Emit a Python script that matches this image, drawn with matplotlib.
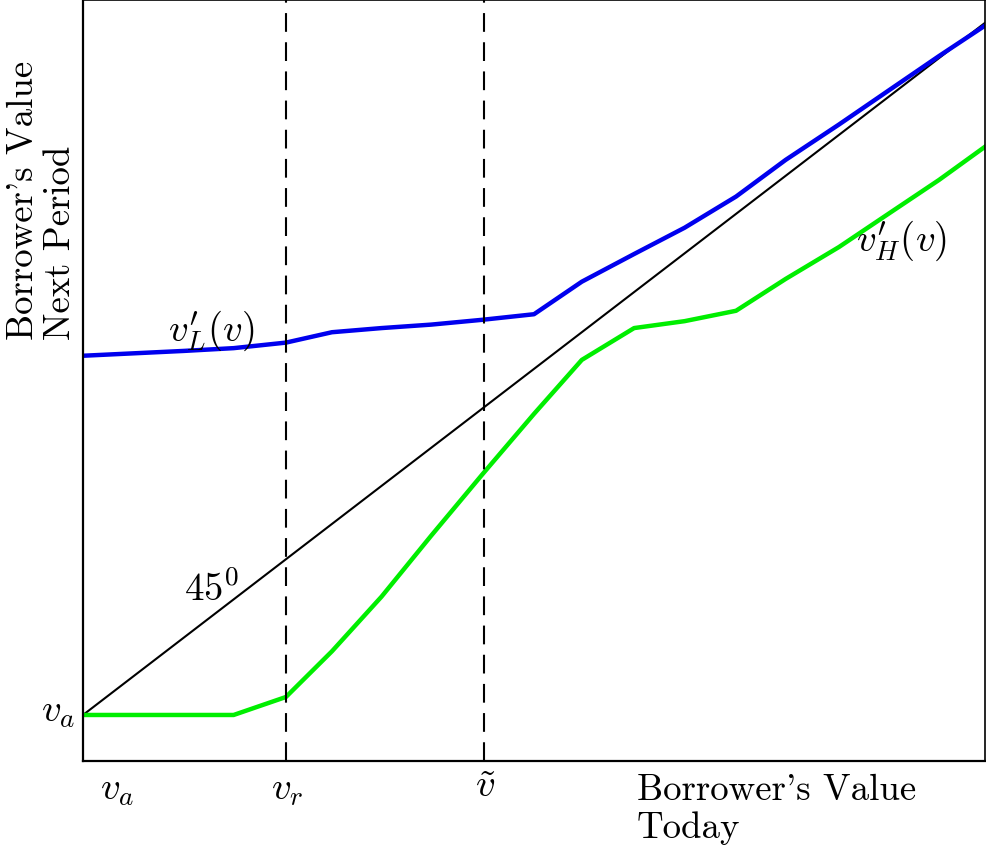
import matplotlib
matplotlib.use("Agg")
import matplotlib.pyplot as plt

plt.rcParams['font.family'] = 'serif'
plt.rcParams['font.serif'] = ['cmr10']
plt.rcParams['mathtext.fontset'] = 'cm'
plt.rcParams['axes.unicode_minus'] = False

# value today (x) and next-period values of the two types
v_today = [1.0, 2.12, 2.67, 3.25, 3.76, 4.31, 4.86, 5.43, 6.0,
           6.53, 7.11, 7.67, 8.24, 8.79, 9.38, 9.94, 10.49, 11.0]
v_low = [6.19, 6.26, 6.30, 6.38, 6.53, 6.59, 6.64, 6.71, 6.79,
         7.26, 7.66, 8.04, 8.49, 9.02, 9.53, 10.03, 10.52, 10.96]
v_high = [1.0, 1.0, 1.0, 1.26, 1.92, 2.71, 3.59, 4.48, 5.35,
          6.13, 6.59, 6.69, 6.84, 7.30, 7.76, 8.25, 8.73, 9.21]

v_a = 1.0
v_r = 3.25
v_tilde = 5.445
v_max = 11.0

W, H = 987, 854
fig = plt.figure(figsize=(W / 100, H / 100), dpi=100)
ax = fig.add_axes([83 / W, (H - 762) / H, (985 - 83) / W, (762 - 1) / H])

ax.plot([v_a, v_max], [v_a, v_max], color='black', lw=1.5)
ax.plot(v_today, v_low, color='#0000ee', lw=3.2, solid_joinstyle='round')
ax.plot(v_today, v_high, color='#00ee00', lw=3.2, solid_joinstyle='round')
ax.axvline(v_r, color='black', lw=1.5, ls=(0, (9, 5)))
ax.axvline(v_tilde, color='black', lw=1.5, ls=(0, (9, 5)))

ax.set_xlim(v_a, v_max)
ax.set_ylim(0.335, 11.33)
ax.set_xticks([])
ax.set_yticks([])
for s in ax.spines.values():
    s.set_linewidth(1.2)
ax.spines['left'].set_linewidth(1.6)
ax.spines['bottom'].set_linewidth(1.6)

fs = 26.5
ms = 28
ax.text(2.43, 2.82, r'$45^0$', fontsize=ms, ha='center', va='center')
ax.text(2.43, 6.56, r"$v_L^{\prime}(v)$", fontsize=ms, ha='center', va='center')
ax.text(10.07, 7.87, r"$v_H^{\prime}(v)$", fontsize=ms, ha='center', va='center')

# labels outside the axes (figure pixel positions)
def fx(px):
    return px / W

def fy(py):
    return 1 - py / H

fig.text(fx(75), fy(712), r'$v_a$', fontsize=ms, ha='right', va='center')
fig.text(fx(117), fy(772), r'$v_a$', fontsize=ms, ha='center', va='top')
fig.text(fx(287), fy(772), r'$v_r$', fontsize=ms, ha='center', va='top')
fig.text(fx(485), fy(769), r'$\tilde{v}$', fontsize=ms, ha='center', va='top')
fig.text(fx(637), fy(774), "Borrower's Value\nToday", fontsize=fs,
         ha='left', va='top', linespacing=1.15)
fig.text(fx(42), fy(340), "Borrower's Value\nNext Period", fontsize=fs,
         ha='center', va='bottom', rotation=90, multialignment='left',
         linespacing=1.15)

fig.savefig('out.png', dpi=100)
